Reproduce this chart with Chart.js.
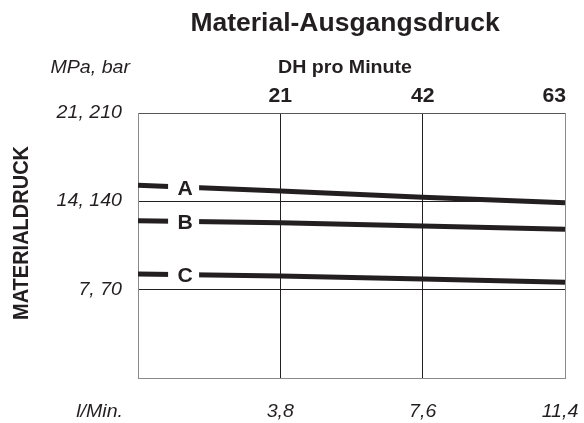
<!DOCTYPE html>
<html>
<head>
<meta charset="utf-8">
<script src="https://cdn.jsdelivr.net/npm/chart.js@4.4.1/dist/chart.umd.min.js"></script>
<style>
  html, body { margin: 0; padding: 0; background: #fff; }
  #wrap { width: 584px; height: 423px; }
</style>
</head>
<body>
<div id="wrap"><canvas id="druckChart" width="584" height="423"></canvas></div>
<script>
// Material-Ausgangsdruck, Werte

const dhPunkte = [0, 21, 42, 63];            // DH pro Minute (x)
const topLabels = ['21', '42', '63'];
const bottomLabels = ['3,8', '7,6', '11,4'];  // l/Min.
const yTicks = [7, 14, 21];
const yLabels = ['7, 70', '14, 140', '21, 210'];

const kurveA = [15.28, 14.81, 14.33, 13.88];
const kurveB = [12.46, 12.30, 12.04, 11.78];
const kurveC = [8.25, 8.09, 7.85, 7.59];
const kurvenNamen = ['A', 'B', 'C'];

const FONT = '"Liberation Sans", Arial, sans-serif';
const INK = '#231f20';
const STRETCH = 1.06; // Schrift im Original etwas breiter

function toXY(werte) {
  return werte.map((v, i) => ({ x: dhPunkte[i], y: v }));
}

// Text leicht in die Breite gezogen zeichnen
function txt(ctx, s, x, y, font, align) {
  ctx.save();
  ctx.font = font;
  ctx.textAlign = align || 'center';
  ctx.textBaseline = 'alphabetic';
  ctx.translate(x, y);
  ctx.scale(STRETCH, 1);
  ctx.fillText(s, 0, 0);
  ctx.restore();
}

// Texte rund um das Diagramm + Buchstaben auf den Linien
const textPlugin = {
  id: 'texte',
  afterDraw(chart) {
    const ctx = chart.ctx;
    const xs = chart.scales.x;
    const ys = chart.scales.y;
    const area = chart.chartArea;
    ctx.save();
    ctx.fillStyle = INK;

    // Titel
    txt(ctx, 'Material-Ausgangsdruck', 345, 31, 'bold 25px ' + FONT);

    // obere Achse
    txt(ctx, 'DH pro Minute', 345, 73, 'bold 18.5px ' + FONT);
    topLabels.forEach((t, i) => {
      if (i == topLabels.length - 1) {
        txt(ctx, t, area.right + 1, 102, 'bold 20px ' + FONT, 'right');
      } else {
        txt(ctx, t, xs.getPixelForValue(dhPunkte[i + 1]), 102, 'bold 20px ' + FONT);
      }
    });

    // Einheiten + Y-Beschriftung
    const it = 'italic 18.5px ' + FONT;
    txt(ctx, 'MPa, bar', 130, 73, it, 'right');
    yTicks.forEach((v, i) => {
      txt(ctx, yLabels[i], 122, ys.getPixelForValue(v) + 5, it, 'right');
    });
    txt(ctx, 'l/Min.', 123, 417, it, 'right');

    // untere Achse
    bottomLabels.forEach((t, i) => {
      let x = xs.getPixelForValue(dhPunkte[i + 1]);
      if (i == bottomLabels.length - 1) x -= 5;
      txt(ctx, t, x, 417, it);
    });

    // Achsentitel senkrecht
    ctx.save();
    ctx.translate(28, 233);
    ctx.rotate(-Math.PI / 2);
    ctx.scale(1, STRETCH);
    ctx.font = 'bold 20px ' + FONT;
    ctx.textAlign = 'center';
    ctx.textBaseline = 'alphabetic';
    ctx.fillText('MATERIALDRUCK', 0, 0);
    ctx.restore();

    // Buchstaben A/B/C mit weisser Luecke in der Linie
    const labelX = 6.8;
    chart.data.datasets.forEach((ds, k) => {
      const px = xs.getPixelForValue(labelX);
      const y0 = ys.getPixelForValue(ds.data[0].y);
      const y1 = ys.getPixelForValue(ds.data[1].y);
      const py = y0 + (y1 - y0) * (labelX / dhPunkte[1]);
      ctx.fillStyle = '#fff';
      ctx.fillRect(px - 16, py - 8, 31, 16);
      ctx.fillStyle = INK;
      txt(ctx, kurvenNamen[k], px + 1, py + 7.5, 'bold 20px ' + FONT);
    });
    ctx.restore();
  }
};

const ctx = document.getElementById('druckChart').getContext('2d');
new Chart(ctx, {
  type: 'line',
  data: {
    datasets: [
      { label: 'A', data: toXY(kurveA) },
      { label: 'B', data: toXY(kurveB) },
      { label: 'C', data: toXY(kurveC) }
    ].map(d => Object.assign(d, {
      borderColor: INK,
      borderWidth: 5,
      pointRadius: 0,
      tension: 0,
      fill: false
    }))
  },
  options: {
    responsive: false,
    animation: false,
    layout: { padding: { left: 138, top: 113, right: 19, bottom: 45 } },
    plugins: { legend: { display: false }, tooltip: { enabled: false } },
    scales: {
      x: {
        type: 'linear',
        min: 0, max: 63,
        ticks: { display: false, stepSize: 21 },
        grid: {
          drawTicks: false,
          color: c => (c.tick.value == 0 || c.tick.value == 63) ? '#8a8a8a' : INK,
          lineWidth: 1
        },
        border: { color: '#8a8a8a', width: 1 }
      },
      y: {
        min: 0, max: 21,
        ticks: { display: false, stepSize: 7 },
        grid: {
          drawTicks: false,
          color: c => c.tick.value == 0 ? '#8a8a8a' : (c.tick.value == 21 ? '#555' : INK),
          lineWidth: 1
        },
        border: { color: '#8a8a8a', width: 1 }
      }
    }
  },
  plugins: [textPlugin]
});
</script>
</body>
</html>
